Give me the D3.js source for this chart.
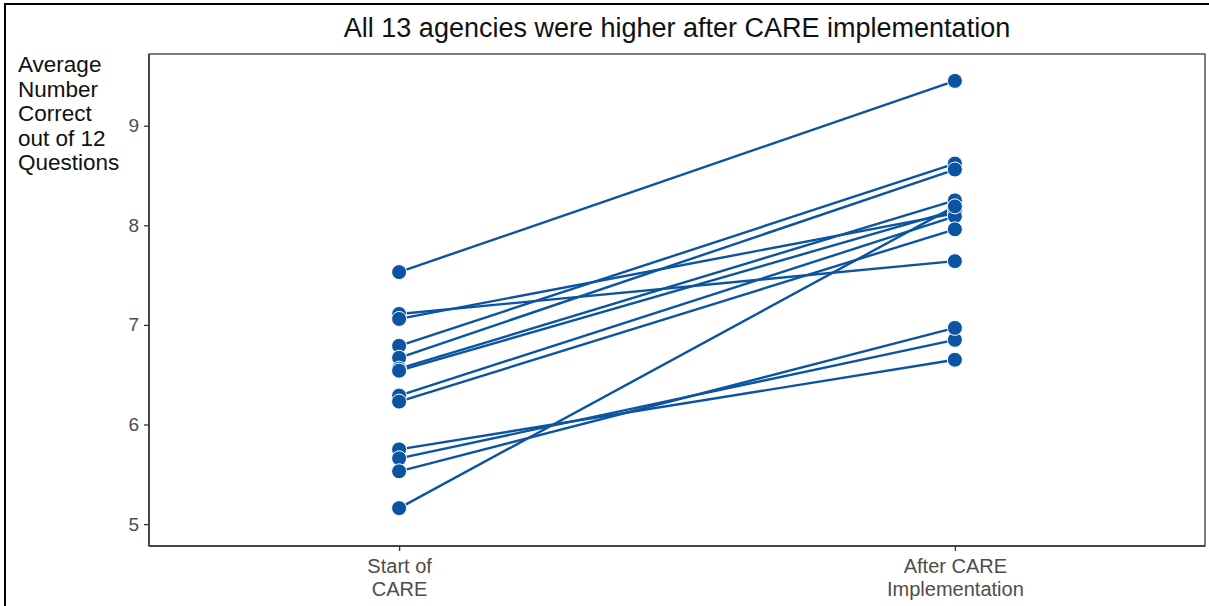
<!DOCTYPE html>
<html>
<head>
<meta charset="utf-8">
<script src="https://cdn.jsdelivr.net/npm/d3@7"></script>
<style>
  html, body { margin: 0; padding: 0; background: #fff; }
  svg { display: block; font-family: "Liberation Sans", Arial, sans-serif; }
</style>
</head>
<body>
<svg id="chart" width="1209" height="606"></svg>
<script>
// ---- data ----
const phases = ["Start of CARE", "After CARE Implementation"];
const phaseLabels = [["Start of", "CARE"], ["After CARE", "Implementation"]];
const startValues = [7.53, 7.11, 7.06, 6.79, 6.67, 6.56, 6.54, 6.29, 6.23, 5.75, 5.66, 5.53, 5.16];
const afterValues = [9.45, 7.64, 8.12, 8.62, 8.56, 8.25, 8.15, 8.09, 7.96, 6.65, 6.85, 6.97, 8.19];
const yTicks = [5, 6, 7, 8, 9];
const titleText = "All 13 agencies were higher after CARE implementation";
const yTitleLines = ["Average", "Number", "Correct", "out of 12", "Questions"];

const agencies = startValues.map((s, i) => ({ id: i, values: [s, afterValues[i]] }));

// ---- layout ----
const svg = d3.select("#chart");
const panel = { left: 149, right: 1205, top: 54, bottom: 546 };
const blue = "#0b54a2";

const x = d3.scalePoint().domain(phases).range([panel.left, panel.right]).padding(0.45);
const y = d3.scaleLinear().domain([4.78, 9.72]).range([panel.bottom, panel.top]);

// outer frame
svg.append("path")
  .attr("d", `M5,606 L5,4 L1209,4`)
  .attr("fill", "none").attr("stroke", "#000").attr("stroke-width", 2);

// panel border
svg.append("rect")
  .attr("x", panel.left).attr("y", panel.top)
  .attr("width", panel.right - panel.left).attr("height", panel.bottom - panel.top)
  .attr("fill", "none").attr("stroke", "#555").attr("stroke-width", 1.5);

// title
svg.append("text")
  .attr("x", (panel.left + panel.right) / 2).attr("y", 37)
  .attr("text-anchor", "middle").attr("font-size", 27).attr("fill", "#111")
  .text(titleText);

// y axis title
const yt = svg.append("text").attr("font-size", 22.5).attr("fill", "#111");
yTitleLines.forEach((l, i) => {
  yt.append("tspan").attr("x", 18).attr("y", 72 + i * 24.5).text(l);
});

// y axis
const yAxis = svg.append("g")
  .attr("transform", `translate(${panel.left},0)`)
  .call(d3.axisLeft(y).tickValues(yTicks).tickSize(5).tickPadding(5).tickFormat(d3.format("d")));
yAxis.select(".domain").remove();
yAxis.selectAll(".tick line").attr("stroke", "#333").attr("stroke-width", 1.3);
yAxis.selectAll(".tick text").attr("font-size", 19).attr("fill", "#4d4d4d")
  .attr("font-family", "Liberation Sans, Arial, sans-serif");

// x axis
const xAxis = svg.append("g")
  .attr("transform", `translate(0,${panel.bottom})`)
  .call(d3.axisBottom(x).tickSize(5).tickFormat(""));
xAxis.select(".domain").remove();
xAxis.selectAll(".tick line").attr("stroke", "#333").attr("stroke-width", 1.3);
xAxis.selectAll(".tick").each(function(d, i) {
  const t = d3.select(this).append("text")
    .attr("text-anchor", "middle").attr("font-size", 20).attr("fill", "#4d4d4d")
    .attr("font-family", "Liberation Sans, Arial, sans-serif");
  phaseLabels[i].forEach((l, j) => {
    t.append("tspan").attr("x", 0).attr("y", 27 + j * 22.5).text(l);
  });
});

// axis lines (darker)
svg.append("line").attr("x1", panel.left).attr("x2", panel.left)
  .attr("y1", panel.top).attr("y2", panel.bottom).attr("stroke", "#333").attr("stroke-width", 1.5);
svg.append("line").attr("x1", panel.left).attr("x2", panel.right)
  .attr("y1", panel.bottom).attr("y2", panel.bottom).attr("stroke", "#333").attr("stroke-width", 1.5);

// lines
const line = d3.line().x((d, i) => x(phases[i])).y(d => y(d));
svg.append("g").selectAll("path").data(agencies).join("path")
  .attr("d", d => line(d.values))
  .attr("fill", "none").attr("stroke", blue).attr("stroke-width", 2.4);

// points
const pts = [];
agencies.forEach(a => a.values.forEach((v, i) => pts.push({ p: phases[i], v })));
svg.append("g").selectAll("circle").data(pts).join("circle")
  .attr("cx", d => x(d.p)).attr("cy", d => y(d.v)).attr("r", 7.5)
  .attr("fill", blue).attr("stroke", "#fff").attr("stroke-width", 1);
</script>
</body>
</html>
